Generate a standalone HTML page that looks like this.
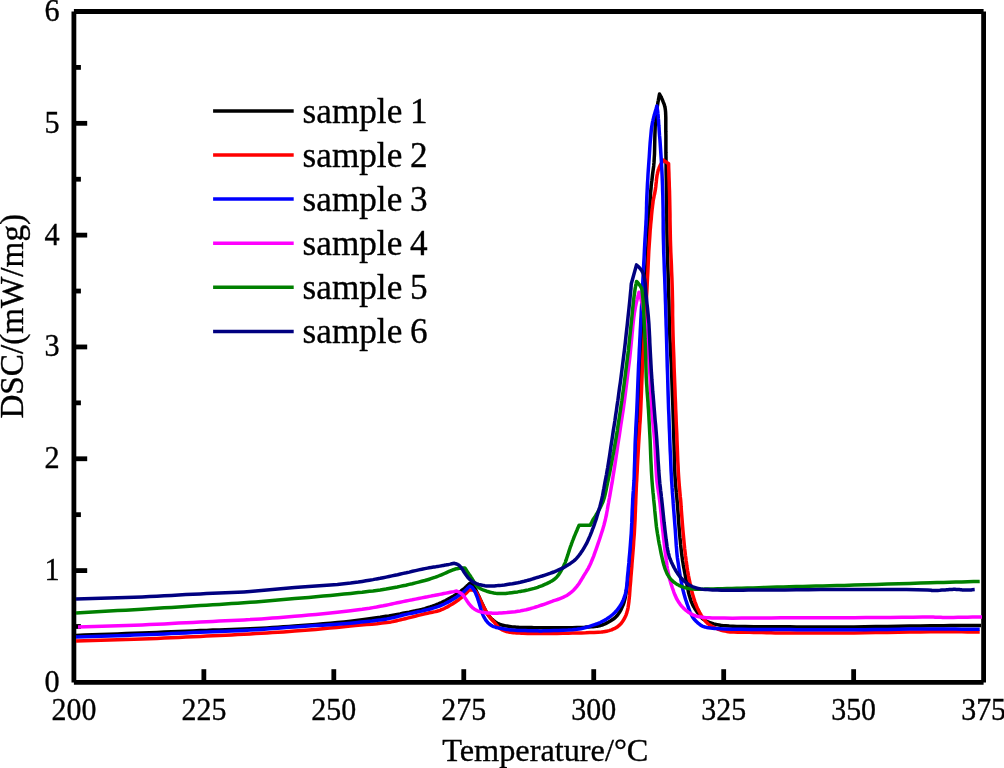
<!DOCTYPE html>
<html><head><meta charset="utf-8"><style>
html,body{margin:0;padding:0;background:#fff;width:1004px;height:768px;overflow:hidden}
svg{display:block;will-change:transform}
text{font-family:"Liberation Serif",serif;fill:#000;stroke:#000;stroke-width:0.35px}
.tl{font-size:31.5px}
.xt{font-size:32.3px}
.yt{font-size:33.2px}
.lg{font-size:35.2px;word-spacing:-1px}
</style></head><body>
<svg width="1004" height="768" viewBox="0 0 1004 768">
<line x1="73.9" y1="11.5" x2="983.6" y2="11.5" stroke="#000" stroke-width="4.8" stroke-linecap="butt"/>
<line x1="73.9" y1="682.4" x2="983.6" y2="682.4" stroke="#000" stroke-width="4.8" stroke-linecap="butt"/>
<line x1="73.9" y1="11.5" x2="73.9" y2="682.4" stroke="#000" stroke-width="4.8" stroke-linecap="butt"/>
<line x1="983.6" y1="11.5" x2="983.6" y2="682.4" stroke="#000" stroke-width="4.8" stroke-linecap="butt"/>
<line x1="73.9" y1="626.49" x2="80.9" y2="626.49" stroke="#000" stroke-width="4.8"/>
<line x1="73.9" y1="570.58" x2="87.2" y2="570.58" stroke="#000" stroke-width="4.8"/>
<line x1="73.9" y1="514.67" x2="80.9" y2="514.67" stroke="#000" stroke-width="4.8"/>
<line x1="73.9" y1="458.77" x2="87.2" y2="458.77" stroke="#000" stroke-width="4.8"/>
<line x1="73.9" y1="402.86" x2="80.9" y2="402.86" stroke="#000" stroke-width="4.8"/>
<line x1="73.9" y1="346.95" x2="87.2" y2="346.95" stroke="#000" stroke-width="4.8"/>
<line x1="73.9" y1="291.04" x2="80.9" y2="291.04" stroke="#000" stroke-width="4.8"/>
<line x1="73.9" y1="235.13" x2="87.2" y2="235.13" stroke="#000" stroke-width="4.8"/>
<line x1="73.9" y1="179.23" x2="80.9" y2="179.23" stroke="#000" stroke-width="4.8"/>
<line x1="73.9" y1="123.32" x2="87.2" y2="123.32" stroke="#000" stroke-width="4.8"/>
<line x1="73.9" y1="67.41" x2="80.9" y2="67.41" stroke="#000" stroke-width="4.8"/>
<line x1="203.86" y1="682.4" x2="203.86" y2="669.2" stroke="#000" stroke-width="4.8"/>
<line x1="333.81" y1="682.4" x2="333.81" y2="669.2" stroke="#000" stroke-width="4.8"/>
<line x1="463.77" y1="682.4" x2="463.77" y2="669.2" stroke="#000" stroke-width="4.8"/>
<line x1="593.73" y1="682.4" x2="593.73" y2="669.2" stroke="#000" stroke-width="4.8"/>
<line x1="723.69" y1="682.4" x2="723.69" y2="669.2" stroke="#000" stroke-width="4.8"/>
<line x1="853.64" y1="682.4" x2="853.64" y2="669.2" stroke="#000" stroke-width="4.8"/>
<polyline points="76.0,635.4 84.3,635.1 92.6,634.8 100.9,634.5 109.3,634.2 117.6,633.9 125.8,633.6 134.0,633.3 142.1,633.0 149.5,632.7 156.9,632.4 164.2,632.1 171.5,631.8 178.7,631.5 185.9,631.2 193.0,630.9 200.2,630.6 206.5,630.4 212.8,630.1 219.2,629.9 225.4,629.7 231.6,629.5 237.8,629.3 243.9,629.1 250.1,628.8 255.7,628.5 261.3,628.2 266.9,627.9 272.4,627.6 277.9,627.2 283.5,626.8 289.1,626.4 294.7,626.0 301.6,625.5 308.7,625.0 315.9,624.4 323.2,623.8 330.4,623.2 337.4,622.6 344.0,621.9 350.7,621.2 354.4,620.8 358.3,620.3 362.2,619.8 365.9,619.3 369.5,618.8 373.0,618.3 376.6,617.8 380.2,617.3 383.2,616.8 386.0,616.3 388.9,615.9 391.7,615.4 394.5,614.9 397.3,614.4 400.1,613.9 402.9,613.3 405.9,612.7 409.1,612.1 412.3,611.4 415.5,610.8 418.6,610.1 421.7,609.4 424.8,608.6 427.5,607.8 429.3,607.3 430.9,606.7 432.4,606.2 434.0,605.6 435.5,605.0 437.0,604.4 438.5,603.8 440.1,603.1 441.5,602.5 442.9,601.8 444.2,601.2 445.6,600.5 446.9,599.8 448.2,599.1 449.6,598.4 450.9,597.6 452.3,596.8 453.8,595.9 455.2,595.0 456.7,594.1 458.1,593.1 459.5,592.1 460.9,591.2 462.1,590.2 463.2,589.3 464.2,588.5 465.1,587.7 466.0,586.9 466.8,586.2 467.4,585.5 468.0,585.0 469.9,583.2 471.6,584.3 471.7,584.4 471.8,584.5 472.0,584.6 472.1,584.8 472.3,584.9 472.5,585.1 472.7,585.4 473.1,585.8 473.6,586.5 474.2,587.4 474.9,588.5 475.6,589.6 476.2,590.8 476.8,592.0 477.4,593.2 478.1,594.9 479.1,596.8 480.0,598.9 481.0,601.0 482.0,603.2 483.0,605.3 483.9,607.2 484.7,608.8 485.1,609.8 485.6,610.6 486.0,611.4 486.5,612.2 486.9,613.0 487.4,613.7 487.8,614.4 488.3,615.1 488.7,615.7 489.2,616.2 489.6,616.7 490.0,617.1 490.4,617.6 490.8,618.1 491.3,618.5 491.8,619.0 492.5,619.6 493.2,620.3 494.0,620.9 494.9,621.6 495.7,622.2 496.6,622.8 497.4,623.3 498.3,623.7 499.2,624.1 500.0,624.5 500.9,624.8 501.8,625.0 502.7,625.3 503.7,625.5 504.7,625.7 505.7,625.9 506.9,626.1 508.2,626.3 509.6,626.5 510.9,626.7 512.2,626.9 513.6,627.0 514.9,627.1 516.3,627.2 517.9,627.3 519.6,627.4 521.3,627.5 523.0,627.5 524.7,627.5 526.4,627.6 528.1,627.6 529.9,627.6 531.8,627.6 533.7,627.7 535.5,627.7 537.4,627.7 539.3,627.7 541.2,627.8 543.2,627.8 545.2,627.8 549.2,627.8 553.8,627.8 558.4,627.8 563.1,627.8 567.8,627.7 572.4,627.7 576.9,627.6 580.7,627.5 582.7,627.4 584.7,627.3 586.7,627.1 588.8,627.0 591.0,626.8 593.0,626.7 594.8,626.5 596.1,626.3 596.7,626.3 597.3,626.2 597.7,626.1 598.2,626.0 598.6,626.0 599.0,625.9 599.5,625.8 599.9,625.7 600.4,625.5 600.9,625.4 601.4,625.2 601.9,625.0 602.5,624.9 603.0,624.6 603.6,624.4 604.3,624.1 605.5,623.6 606.9,622.9 608.6,622.0 610.3,621.0 611.9,620.0 613.4,619.0 614.7,618.0 615.7,617.1 616.5,616.3 617.2,615.5 617.8,614.7 618.4,613.9 619.0,613.0 619.6,612.2 620.1,611.2 620.7,610.3 621.2,609.2 621.7,608.1 622.2,607.0 622.7,605.9 623.2,604.8 623.6,603.7 624.0,602.5 624.3,601.3 624.7,599.8 625.1,598.1 625.4,596.4 625.8,594.7 626.0,593.0 626.3,591.3 626.6,589.6 626.8,588.0 627.0,586.3 627.3,584.8 627.5,583.2 627.7,581.6 627.9,580.0 628.1,578.4 628.4,576.8 628.6,575.1 628.9,573.3 629.1,571.5 629.4,569.8 629.7,568.0 629.9,566.2 630.2,564.4 630.4,562.6 630.6,560.7 630.9,557.2 631.2,553.4 631.4,549.6 631.6,545.7 631.7,541.7 631.9,537.7 632.1,533.8 632.3,530.0 632.5,526.2 632.8,522.4 633.0,518.5 633.3,514.6 633.5,510.8 633.8,507.0 634.0,503.2 634.2,499.6 634.4,497.0 634.5,494.7 634.6,492.4 634.8,490.2 634.9,487.9 635.0,485.6 635.1,483.2 635.3,480.7 635.5,476.0 635.7,471.0 635.9,465.8 636.1,460.5 636.3,455.2 636.5,449.9 636.8,444.7 637.0,439.7 637.2,435.9 637.5,432.2 637.7,428.6 638.0,425.0 638.2,421.4 638.4,417.8 638.7,414.1 638.9,410.3 639.1,405.4 639.3,400.5 639.5,395.5 639.7,390.4 639.9,385.3 640.1,380.1 640.3,375.0 640.5,370.0 640.7,365.0 641.0,360.0 641.2,355.0 641.5,350.0 641.7,345.0 642.0,340.0 642.3,335.0 642.6,330.0 642.9,325.0 643.3,320.1 643.6,315.2 644.0,310.3 644.3,305.4 644.7,300.3 645.1,295.3 645.4,290.3 645.8,284.0 646.2,277.5 646.5,270.9 646.9,264.2 647.3,257.6 647.6,251.2 647.9,245.2 648.2,239.2 648.4,236.3 648.5,233.2 648.7,230.3 648.8,227.5 648.9,224.7 649.0,221.9 649.1,219.1 649.3,216.2 649.5,212.9 649.6,209.4 649.8,206.0 650.0,202.6 650.2,199.2 650.4,195.8 650.6,192.5 650.9,189.5 651.1,187.5 651.2,185.7 651.4,183.9 651.6,182.1 651.9,180.3 652.1,178.5 652.3,176.7 652.5,174.8 652.7,173.2 652.9,171.7 653.1,170.2 653.3,168.8 653.5,167.4 653.7,165.9 653.8,164.4 654.0,162.7 654.2,158.8 654.5,154.0 654.6,149.2 654.7,144.3 654.8,139.5 654.9,134.7 655.1,129.8 655.2,126.5 655.2,125.6 655.3,124.9 655.3,124.2 655.3,123.6 655.4,123.0 655.4,122.4 655.5,121.7 655.6,120.8 655.7,119.1 655.9,117.1 656.2,114.9 656.4,112.7 656.7,110.6 657.0,108.5 657.3,106.4 657.6,104.6 657.8,103.2 658.0,101.9 658.3,100.6 658.5,99.4 658.7,98.3 658.9,97.4 659.0,96.6 659.5,94.0 660.6,96.0 660.7,96.2 660.8,96.5 661.0,96.7 661.1,97.0 661.3,97.4 661.5,97.8 661.7,98.3 662.1,99.0 662.4,99.8 662.8,100.8 663.2,101.9 663.6,102.9 664.0,103.9 664.3,104.7 664.5,105.5 664.6,105.9 664.7,106.3 664.8,106.7 664.9,107.1 665.0,107.4 665.1,107.8 665.1,108.2 665.2,108.7 665.4,110.1 665.6,112.2 665.7,114.9 665.8,117.5 665.8,120.1 665.8,122.6 665.8,125.1 665.8,127.5 665.8,131.4 665.9,135.5 665.9,139.7 665.9,144.0 665.9,148.4 665.9,152.9 666.0,157.3 666.0,161.6 666.1,166.3 666.1,171.1 666.2,175.8 666.3,180.6 666.4,185.5 666.4,190.3 666.5,195.2 666.6,200.0 666.7,204.9 666.7,209.8 666.8,214.7 666.8,219.7 666.9,224.6 666.9,229.6 667.0,234.7 667.1,239.7 667.2,246.0 667.4,252.2 667.6,258.6 667.8,265.0 668.0,271.4 668.2,277.8 668.4,284.0 668.6,290.3 668.7,295.3 668.9,300.3 669.0,305.4 669.1,310.3 669.2,315.2 669.3,320.1 669.4,325.0 669.6,330.0 669.8,335.0 670.0,339.8 670.3,344.5 670.5,349.3 670.7,354.1 671.0,359.1 671.3,364.4 671.5,369.4 671.8,377.9 672.1,386.5 672.4,395.7 672.8,405.0 673.1,414.3 673.4,423.5 673.6,432.1 673.9,440.6 674.1,445.7 674.2,451.2 674.4,456.5 674.5,461.6 674.6,466.6 674.8,471.3 675.0,476.0 675.3,480.7 675.5,483.2 675.7,485.6 675.9,487.9 676.1,490.2 676.3,492.4 676.6,494.7 676.8,497.0 677.0,499.6 677.3,503.2 677.6,507.0 677.9,510.8 678.2,514.7 678.4,518.6 678.7,522.5 679.0,526.3 679.3,530.1 679.6,533.6 679.9,537.2 680.3,540.9 680.6,544.5 681.0,548.1 681.4,551.6 681.8,555.1 682.3,558.4 682.6,560.7 683.0,562.9 683.3,565.0 683.7,567.1 684.1,569.2 684.5,571.3 684.9,573.4 685.3,575.6 685.8,578.2 686.3,581.0 686.8,583.8 687.4,586.7 687.9,589.5 688.5,592.3 689.2,595.0 689.9,597.3 690.3,598.7 690.7,600.0 691.2,601.3 691.7,602.5 692.2,603.7 692.7,604.9 693.3,606.0 694.0,607.2 694.6,608.2 695.3,609.3 696.0,610.4 696.8,611.5 697.6,612.6 698.3,613.5 698.8,614.3 699.2,615.0 699.5,615.3 699.7,615.6 699.9,615.8 700.1,616.1 700.2,616.3 700.4,616.6 700.6,616.8 700.9,617.1 701.4,617.6 702.1,618.3 703.1,619.0 704.2,619.8 705.4,620.6 706.7,621.3 707.9,621.8 709.2,622.4 710.7,622.9 712.2,623.4 713.8,623.9 715.4,624.3 717.1,624.6 718.9,624.9 720.6,625.2 722.4,625.4 729.2,626.0 736.8,626.4 745.1,626.6 754.0,626.7 763.2,626.7 772.4,626.7 781.3,626.7 789.8,626.8 796.5,626.9 803.2,626.9 809.8,627.0 816.3,627.0 822.8,627.0 829.6,627.0 836.5,627.0 843.7,627.0 853.9,626.9 864.6,626.8 875.8,626.6 887.2,626.5 898.5,626.3 909.6,626.1 920.2,625.9 930.4,625.8 937.1,625.7 943.8,625.7 950.2,625.6 956.4,625.6 962.5,625.5 968.5,625.5 974.7,625.4 981.0,625.4" fill="none" stroke="#000000" stroke-width="3.5" stroke-linejoin="round" stroke-linecap="butt"/>
<polyline points="76.0,641.1 84.3,640.8 92.6,640.6 100.9,640.3 109.3,640.1 117.6,639.8 125.8,639.6 134.0,639.3 142.1,639.0 149.5,638.7 156.9,638.4 164.2,638.1 171.5,637.7 178.7,637.4 185.9,637.1 193.0,636.7 200.2,636.4 206.5,636.1 212.8,635.8 219.2,635.5 225.4,635.2 231.6,634.9 237.8,634.6 243.9,634.2 250.1,633.9 255.7,633.6 261.3,633.3 266.9,633.0 272.4,632.6 277.9,632.3 283.5,631.9 289.1,631.5 294.7,631.1 301.6,630.6 308.5,630.0 315.6,629.4 322.7,628.7 329.8,628.0 336.8,627.4 343.6,626.7 350.3,626.1 355.4,625.6 361.0,625.1 366.5,624.6 371.9,624.2 377.0,623.7 381.9,623.1 386.8,622.5 391.1,621.9 392.8,621.6 394.2,621.3 395.5,621.0 396.8,620.7 398.0,620.4 399.3,620.1 400.7,619.8 402.3,619.4 405.1,618.7 408.4,617.9 411.7,617.1 415.0,616.3 418.3,615.4 421.6,614.6 424.8,613.8 427.6,613.2 429.3,612.8 430.9,612.5 432.4,612.2 434.0,611.9 435.5,611.6 437.0,611.2 438.5,610.8 440.0,610.3 441.4,609.7 442.9,609.1 444.3,608.5 445.6,607.8 447.0,607.1 448.3,606.4 449.6,605.6 451.0,604.8 452.4,604.0 453.9,603.0 455.4,602.0 456.8,601.0 458.3,600.0 459.7,598.9 461.1,597.9 462.3,596.8 463.2,596.0 464.1,595.1 465.0,594.3 465.7,593.6 466.4,592.9 467.0,592.3 467.5,591.8 469.3,589.9 471.7,589.9 472.0,590.0 472.4,590.0 472.9,590.1 473.3,590.2 473.7,590.4 474.2,590.6 474.6,590.8 475.3,591.3 476.1,592.1 477.0,593.3 477.9,594.8 478.8,596.6 479.5,598.1 479.9,599.2 480.3,599.9 480.4,600.2 480.6,600.5 480.7,600.7 480.8,600.9 480.9,601.2 481.0,601.4 481.1,601.6 481.3,602.0 481.6,602.7 482.1,603.7 482.8,605.1 483.6,606.7 484.4,608.4 485.2,609.9 485.9,611.2 486.6,612.4 487.1,613.2 487.5,614.0 488.0,614.8 488.6,615.5 489.1,616.3 489.6,617.0 490.2,617.7 490.7,618.3 491.2,618.9 491.7,619.4 492.2,619.9 492.6,620.5 493.1,621.0 493.6,621.5 494.1,622.1 494.6,622.6 495.1,623.2 495.6,623.8 496.1,624.4 496.6,625.0 497.1,625.6 497.6,626.2 498.0,626.7 498.4,627.1 498.8,627.5 499.1,627.8 499.5,628.1 499.8,628.4 500.1,628.6 500.4,628.8 500.8,629.1 501.1,629.3 501.5,629.5 501.9,629.7 502.3,629.9 502.7,630.1 503.1,630.3 503.5,630.5 504.0,630.7 504.5,630.9 505.2,631.1 505.8,631.3 506.5,631.5 507.3,631.7 508.0,631.8 508.8,632.0 509.6,632.2 510.5,632.3 511.8,632.5 513.3,632.7 514.8,632.8 516.4,632.9 518.0,633.0 519.6,633.1 521.2,633.2 522.9,633.3 527.6,633.4 533.1,633.4 538.7,633.5 544.7,633.5 550.9,633.4 557.0,633.4 562.8,633.3 568.3,633.2 572.4,633.1 576.9,633.0 581.3,632.9 585.7,632.8 589.9,632.6 594.0,632.5 598.2,632.2 601.3,632.0 602.4,631.9 603.2,631.8 604.0,631.7 604.8,631.6 605.5,631.5 606.2,631.3 607.1,631.2 608.0,630.9 609.1,630.6 610.4,630.2 611.7,629.8 613.0,629.2 614.3,628.7 615.5,628.0 616.6,627.4 617.6,626.7 618.5,625.9 619.4,625.2 620.3,624.3 621.1,623.5 621.8,622.5 622.5,621.6 623.2,620.6 623.8,619.5 624.4,618.5 625.0,617.4 625.5,616.3 626.0,615.1 626.4,613.9 626.8,612.8 627.1,611.5 627.5,610.3 627.8,609.0 628.1,607.6 628.3,606.1 628.5,604.7 628.7,603.2 628.9,601.8 629.0,600.3 629.2,598.8 629.3,597.3 629.5,595.9 629.6,594.5 629.7,593.0 629.8,591.6 629.9,590.2 630.0,588.7 630.1,587.0 630.4,584.1 630.7,580.7 630.9,577.3 631.2,573.9 631.5,570.4 631.8,566.9 632.0,563.5 632.3,560.1 632.6,556.4 632.9,552.7 633.2,548.9 633.5,545.1 633.7,541.3 634.0,537.5 634.3,533.8 634.5,530.0 634.7,526.2 634.9,522.4 635.1,518.5 635.2,514.6 635.4,510.8 635.5,507.0 635.7,503.2 635.8,499.6 635.9,497.0 636.0,494.7 636.1,492.4 636.2,490.2 636.3,487.9 636.4,485.6 636.5,483.2 636.7,480.7 636.9,476.0 637.2,471.0 637.4,465.8 637.7,460.5 638.0,455.2 638.3,449.9 638.6,444.7 638.9,439.7 639.1,435.9 639.4,432.2 639.6,428.6 639.8,425.0 640.1,421.4 640.3,417.8 640.5,414.1 640.7,410.3 640.9,405.4 641.1,400.5 641.3,395.5 641.5,390.4 641.7,385.3 641.9,380.1 642.1,375.0 642.3,370.0 642.6,365.0 642.8,360.0 643.1,355.0 643.4,350.0 643.7,345.0 644.0,340.0 644.3,335.0 644.6,330.0 644.9,325.0 645.2,320.1 645.5,315.2 645.7,310.3 646.0,305.4 646.3,300.3 646.6,295.3 646.9,290.3 647.2,284.0 647.5,277.5 647.9,270.9 648.2,264.2 648.5,257.6 648.8,251.2 649.2,245.2 649.6,239.3 649.8,236.3 650.0,233.1 650.2,230.0 650.5,227.0 650.7,224.2 651.0,221.3 651.3,218.5 651.5,215.7 651.7,213.6 651.9,211.5 652.1,209.5 652.4,207.4 652.6,205.4 652.9,203.3 653.1,201.3 653.4,199.5 653.7,198.2 653.9,197.1 654.1,196.0 654.3,195.0 654.6,194.0 654.8,192.9 655.0,191.8 655.2,190.6 655.5,188.7 655.8,186.5 656.0,184.2 656.3,181.9 656.5,179.5 656.8,177.2 657.1,175.1 657.5,173.4 657.7,172.4 657.9,171.6 658.1,170.8 658.3,170.1 658.5,169.3 658.8,168.6 659.1,167.8 659.4,167.0 659.8,166.2 660.2,165.4 660.6,164.6 661.0,163.9 661.4,163.3 661.8,162.7 662.0,162.2 663.4,160.1 668.6,163.8 668.7,168.3 668.9,172.8 669.0,177.3 669.2,181.8 669.3,186.3 669.5,190.8 669.6,195.4 669.7,199.9 669.8,204.9 669.9,209.7 670.0,214.6 670.0,219.6 670.1,224.6 670.2,229.6 670.3,234.7 670.4,239.7 670.6,246.0 670.8,252.2 671.1,258.6 671.4,265.0 671.6,271.4 671.9,277.8 672.1,284.0 672.3,290.3 672.4,295.2 672.5,300.2 672.6,305.0 672.6,309.8 672.6,314.6 672.7,319.5 672.8,324.5 672.9,329.5 673.1,336.9 673.3,344.2 673.6,351.8 673.9,359.6 674.1,367.4 674.4,375.1 674.7,382.7 675.0,390.2 675.2,396.5 675.5,403.0 675.7,409.4 676.0,415.7 676.2,421.9 676.5,428.0 676.8,434.1 677.0,440.2 677.2,445.3 677.4,450.6 677.6,456.0 677.8,461.2 678.1,466.3 678.3,471.2 678.6,476.0 678.9,480.7 679.1,483.2 679.3,485.6 679.5,487.9 679.7,490.2 679.9,492.4 680.1,494.7 680.3,497.0 680.6,499.5 680.9,503.2 681.1,507.0 681.4,510.9 681.7,514.8 682.0,518.7 682.3,522.6 682.6,526.5 682.9,530.2 683.2,533.3 683.5,536.5 683.8,539.7 684.1,542.8 684.4,545.9 684.7,549.0 685.1,552.1 685.4,555.2 685.8,557.8 686.1,560.4 686.5,563.0 686.8,565.6 687.2,568.2 687.6,570.8 688.1,573.3 688.5,575.8 689.0,578.3 689.5,580.7 690.0,583.1 690.5,585.6 691.0,588.0 691.6,590.4 692.2,592.7 692.8,594.9 693.3,596.6 693.8,598.2 694.3,599.8 694.8,601.5 695.4,603.1 696.0,604.7 696.6,606.2 697.2,607.6 697.6,608.5 698.1,609.4 698.5,610.2 698.9,611.0 699.3,611.8 699.7,612.6 700.2,613.4 700.6,614.2 701.0,614.9 701.4,615.5 701.8,616.2 702.2,616.8 702.6,617.4 703.1,618.0 703.5,618.6 704.0,619.3 704.5,620.0 705.1,620.6 705.6,621.3 706.2,622.0 706.8,622.6 707.4,623.2 708.1,623.8 708.9,624.4 710.3,625.3 711.9,626.3 713.7,627.3 715.6,628.2 717.5,629.0 719.4,629.7 721.3,630.3 723.3,630.8 726.6,631.4 730.2,631.9 733.9,632.1 737.8,632.2 741.7,632.3 745.8,632.3 749.7,632.3 753.6,632.4 757.9,632.5 762.2,632.6 766.5,632.7 770.9,632.8 775.3,632.9 779.9,632.9 784.6,633.0 789.0,633.0 795.6,633.0 802.0,633.1 808.5,633.1 815.2,633.1 822.1,633.1 829.2,633.1 836.5,633.0 843.7,633.0 854.0,632.9 864.7,632.8 875.8,632.6 887.2,632.4 898.6,632.2 909.7,632.0 920.3,631.9 930.4,631.8 937.0,631.8 943.5,631.8 949.7,631.8 955.7,631.8 961.7,631.8 967.6,631.9 973.5,631.9 979.7,631.9" fill="none" stroke="#ff0000" stroke-width="3.5" stroke-linejoin="round" stroke-linecap="butt"/>
<polyline points="76.0,637.0 84.3,636.7 92.6,636.5 100.9,636.2 109.3,635.9 117.6,635.7 125.8,635.4 134.0,635.1 142.1,634.8 149.5,634.5 156.9,634.2 164.2,633.9 171.5,633.6 178.7,633.2 185.9,632.9 193.0,632.6 200.2,632.3 206.5,632.0 212.8,631.8 219.2,631.5 225.4,631.3 231.6,631.0 237.8,630.7 243.9,630.4 250.1,630.1 255.7,629.7 261.3,629.4 266.9,629.0 272.4,628.6 277.9,628.2 283.5,627.7 289.1,627.3 294.7,626.9 301.6,626.5 308.5,626.0 315.6,625.6 322.7,625.2 329.8,624.7 336.8,624.3 343.6,623.8 350.3,623.2 355.4,622.7 361.0,622.1 366.5,621.6 371.9,621.0 377.0,620.3 381.9,619.7 386.8,618.9 391.1,618.1 392.7,617.8 394.2,617.4 395.5,617.1 396.8,616.8 398.0,616.4 399.3,616.1 400.7,615.7 402.3,615.3 405.1,614.6 408.4,613.9 411.7,613.2 415.0,612.5 418.3,611.8 421.6,611.1 424.8,610.3 427.6,609.6 429.3,609.2 430.9,608.8 432.4,608.3 434.0,607.9 435.5,607.4 437.0,606.9 438.5,606.4 440.0,605.8 441.5,605.2 442.9,604.6 444.3,604.0 445.6,603.3 447.0,602.6 448.3,601.9 449.7,601.2 451.0,600.4 452.4,599.6 453.9,598.7 455.3,597.8 456.8,596.9 458.2,595.9 459.6,594.9 461.0,594.0 462.2,593.0 463.3,592.1 464.3,591.3 465.2,590.5 466.0,589.7 466.8,589.0 467.5,588.3 468.0,587.8 469.9,586.0 471.6,587.1 471.7,587.1 471.8,587.2 471.9,587.3 472.0,587.5 472.2,587.6 472.4,587.8 472.6,588.0 473.0,588.6 473.6,589.5 474.4,590.8 475.3,592.4 476.0,594.2 476.7,595.8 477.3,597.3 477.7,598.6 478.0,599.6 478.3,600.5 478.6,601.3 478.8,602.2 479.1,603.0 479.4,603.9 479.6,604.8 479.9,605.7 480.3,606.9 480.6,608.2 481.0,609.5 481.4,610.8 481.9,612.1 482.3,613.4 482.8,614.6 483.3,615.7 483.8,616.7 484.3,617.7 484.9,618.7 485.5,619.7 486.2,620.6 486.9,621.5 487.5,622.3 488.2,623.0 488.8,623.5 489.3,624.0 489.9,624.4 490.4,624.8 491.0,625.2 491.6,625.6 492.2,625.9 492.9,626.3 493.7,626.6 494.6,626.9 495.5,627.2 496.5,627.5 497.4,627.7 498.5,627.9 499.5,628.2 500.5,628.3 501.7,628.6 503.0,628.8 504.2,629.0 505.5,629.2 506.7,629.4 508.0,629.6 509.3,629.7 510.6,629.9 512.8,630.1 515.2,630.2 517.8,630.4 520.3,630.5 522.9,630.5 525.4,630.6 527.9,630.7 530.3,630.7 532.2,630.7 534.1,630.8 535.9,630.8 537.6,630.8 539.4,630.9 541.3,630.9 543.2,630.8 545.2,630.8 549.2,630.7 553.8,630.6 558.4,630.5 563.1,630.3 567.8,630.1 572.4,629.8 576.8,629.3 580.7,628.7 582.7,628.3 584.7,627.8 586.7,627.2 588.8,626.6 590.9,625.9 593.0,625.2 594.7,624.6 595.9,624.2 596.5,624.0 596.9,623.9 597.3,623.7 597.6,623.6 598.0,623.5 598.3,623.3 598.8,623.1 599.3,622.9 600.3,622.5 601.6,621.8 603.1,621.0 604.8,620.1 606.4,619.2 607.8,618.2 609.2,617.3 610.4,616.4 611.5,615.5 612.7,614.5 613.8,613.5 614.9,612.4 616.0,611.2 617.0,610.1 618.0,608.9 618.8,607.8 619.5,606.8 620.2,605.9 620.8,604.9 621.4,603.9 621.9,602.8 622.4,601.8 622.9,600.7 623.4,599.7 623.8,598.7 624.1,597.8 624.4,596.9 624.7,596.0 625.0,595.1 625.3,594.2 625.5,593.2 625.8,592.1 626.1,590.4 626.4,588.4 626.7,586.2 626.9,584.1 627.1,581.9 627.3,579.8 627.4,577.7 627.6,575.7 627.8,573.8 628.0,571.9 628.2,570.1 628.3,568.3 628.5,566.5 628.7,564.6 628.9,562.7 629.0,560.6 629.3,557.1 629.7,553.3 630.0,549.5 630.3,545.6 630.6,541.7 630.9,537.7 631.2,533.8 631.4,530.0 631.6,526.2 631.8,522.4 631.9,518.5 632.1,514.6 632.2,510.8 632.4,507.0 632.6,503.2 632.7,499.6 632.9,497.0 633.0,494.7 633.2,492.4 633.4,490.2 633.5,487.9 633.7,485.6 633.8,483.2 634.0,480.7 634.2,476.0 634.3,471.0 634.5,465.8 634.7,460.5 634.8,455.2 635.0,449.9 635.1,444.7 635.3,439.7 635.5,435.9 635.7,432.2 635.8,428.6 636.0,425.0 636.2,421.4 636.4,417.8 636.6,414.1 636.8,410.3 637.0,405.4 637.2,400.5 637.4,395.5 637.6,390.4 637.8,385.3 638.0,380.1 638.2,375.0 638.4,370.0 638.6,365.0 638.9,360.0 639.1,355.0 639.3,350.0 639.6,345.0 639.8,340.0 640.1,335.0 640.3,330.0 640.6,325.0 640.8,320.1 641.1,315.2 641.3,310.3 641.6,305.4 641.9,300.3 642.1,295.3 642.4,290.3 642.7,284.0 643.0,277.5 643.4,270.9 643.7,264.2 644.1,257.6 644.4,251.2 644.7,245.2 645.0,239.3 645.2,236.3 645.4,233.2 645.6,230.2 645.7,227.3 645.9,224.5 646.0,221.7 646.2,218.8 646.3,215.9 646.4,213.2 646.5,210.7 646.5,208.2 646.6,205.7 646.6,203.2 646.7,200.7 646.8,198.1 646.9,195.5 647.1,191.5 647.3,187.3 647.5,183.1 647.8,178.9 648.0,174.5 648.3,170.2 648.6,165.9 648.9,161.7 649.2,157.5 649.5,152.9 649.8,148.2 650.1,143.5 650.5,139.0 650.9,134.7 651.3,130.2 651.7,127.0 651.9,125.9 652.1,124.9 652.2,124.0 652.4,123.1 652.5,122.3 652.7,121.4 652.9,120.6 653.1,119.7 653.3,119.0 653.5,118.3 653.6,117.7 653.8,117.0 653.9,116.4 654.1,115.7 654.3,115.1 654.5,114.3 654.8,113.4 655.0,112.5 655.3,111.5 655.6,110.6 655.8,109.8 656.0,109.1 656.2,108.5 656.9,106.0 657.3,108.5 657.3,108.9 657.4,109.5 657.5,110.1 657.6,110.8 657.7,111.5 657.8,112.4 657.9,113.5 658.1,115.0 658.2,116.6 658.3,118.4 658.5,120.1 658.6,121.8 658.7,123.6 658.8,125.3 659.0,127.2 659.2,130.9 659.5,135.2 659.9,139.4 660.2,143.7 660.5,148.2 660.8,152.8 661.1,157.3 661.4,161.6 661.6,166.3 661.9,171.1 662.1,175.8 662.3,180.6 662.5,185.5 662.6,190.3 662.8,195.2 662.9,200.0 663.0,204.9 663.1,209.8 663.1,214.7 663.2,219.7 663.2,224.6 663.2,229.6 663.3,234.7 663.4,239.7 663.6,246.0 663.7,252.2 664.0,258.6 664.2,265.0 664.4,271.4 664.7,277.8 664.9,284.0 665.1,290.3 665.3,295.2 665.4,300.2 665.6,305.0 665.7,309.8 665.8,314.6 666.0,319.5 666.1,324.5 666.3,329.5 666.5,336.9 666.7,344.2 666.9,351.8 667.1,359.6 667.3,367.4 667.6,375.1 667.8,382.7 668.0,390.2 668.2,396.5 668.4,403.0 668.6,409.4 668.9,415.7 669.1,421.9 669.3,428.0 669.6,434.1 669.8,440.2 670.0,445.3 670.2,450.6 670.5,456.0 670.7,461.2 670.9,466.3 671.1,471.2 671.4,476.0 671.6,480.7 671.8,483.2 672.0,485.6 672.1,487.9 672.3,490.2 672.4,492.4 672.6,494.7 672.8,497.0 673.0,499.5 673.2,503.2 673.5,507.0 673.8,510.9 674.1,514.8 674.4,518.7 674.7,522.6 675.0,526.5 675.3,530.2 675.5,533.3 675.7,536.5 675.9,539.7 676.1,542.8 676.3,545.9 676.6,549.0 676.8,552.1 677.1,555.1 677.4,557.8 677.8,560.5 678.2,563.1 678.6,565.8 679.0,568.4 679.4,571.0 679.8,573.6 680.2,576.1 680.6,578.1 680.9,580.0 681.3,582.0 681.7,583.9 682.1,585.9 682.5,587.8 682.9,589.7 683.4,591.6 683.8,593.3 684.3,595.0 684.8,596.7 685.3,598.4 685.8,600.1 686.4,601.7 686.9,603.4 687.5,605.0 688.1,606.6 688.7,608.3 689.3,610.0 689.9,611.6 690.6,613.3 691.4,614.8 692.2,616.3 693.0,617.6 693.8,618.7 694.7,619.8 695.7,620.9 696.9,622.0 698.1,623.1 699.1,623.9 700.0,624.6 700.6,625.1 700.9,625.3 701.2,625.5 701.4,625.6 701.6,625.7 701.9,625.9 702.1,626.0 702.4,626.1 702.8,626.3 703.7,626.6 704.9,627.0 706.6,627.4 708.6,627.7 710.7,628.0 712.7,628.2 714.6,628.4 716.3,628.5 723.7,628.9 731.9,629.2 741.0,629.3 750.8,629.4 760.9,629.5 771.0,629.5 780.7,629.5 789.8,629.6 796.7,629.7 803.4,629.7 810.0,629.8 816.4,629.8 822.9,629.8 829.6,629.8 836.6,629.8 843.7,629.8 854.0,629.7 864.7,629.7 875.8,629.5 887.2,629.4 898.6,629.3 909.7,629.1 920.3,629.0 930.4,629.0 937.0,629.0 943.5,629.0 949.7,629.1 955.7,629.1 961.7,629.2 967.6,629.2 973.5,629.3 979.7,629.3" fill="none" stroke="#0000ff" stroke-width="3.5" stroke-linejoin="round" stroke-linecap="butt"/>
<polyline points="78.0,626.9 86.0,626.7 94.1,626.4 102.1,626.2 110.2,626.0 118.2,625.7 126.2,625.5 134.2,625.2 142.1,624.9 149.4,624.6 156.8,624.2 164.2,623.9 171.5,623.5 178.7,623.1 185.9,622.7 193.0,622.4 200.2,622.0 206.5,621.7 212.8,621.4 219.2,621.1 225.4,620.8 231.6,620.6 237.8,620.3 243.9,619.9 250.1,619.6 255.7,619.2 261.3,618.9 266.9,618.5 272.4,618.1 277.9,617.7 283.5,617.3 289.1,616.8 294.7,616.3 301.6,615.7 308.7,615.1 315.9,614.4 323.2,613.8 330.4,613.1 337.4,612.3 344.0,611.6 350.6,610.8 354.4,610.3 358.3,609.8 362.2,609.3 365.9,608.7 369.5,608.2 373.0,607.6 376.6,607.0 380.2,606.3 383.2,605.8 386.0,605.2 388.9,604.6 391.7,604.0 394.5,603.4 397.3,602.8 400.1,602.2 402.9,601.6 405.9,601.0 409.1,600.4 412.3,599.8 415.5,599.1 418.6,598.5 421.7,597.9 424.9,597.3 427.6,596.8 429.3,596.4 430.8,596.1 432.3,595.8 433.7,595.6 435.1,595.3 436.6,595.0 438.1,594.7 439.7,594.4 441.7,594.0 443.8,593.5 446.0,593.1 448.1,592.7 450.2,592.3 452.2,591.9 453.8,591.6 456.6,591.0 458.8,592.0 459.1,592.1 459.5,592.3 459.8,592.6 460.3,592.8 460.7,593.1 461.2,593.5 461.7,593.9 462.3,594.4 462.9,595.1 463.5,595.8 464.2,596.7 464.8,597.6 465.4,598.5 466.0,599.4 466.6,600.3 467.2,601.2 467.9,602.2 468.6,603.2 469.3,604.2 470.1,605.1 470.9,606.0 471.6,606.8 472.4,607.6 473.1,608.2 473.8,608.7 474.5,609.2 475.2,609.6 475.9,610.0 476.7,610.4 477.5,610.8 478.4,611.1 479.6,611.5 480.9,611.9 482.4,612.2 484.0,612.5 485.6,612.7 487.1,612.9 488.6,613.0 490.0,613.1 491.2,613.1 492.3,613.2 493.4,613.2 494.5,613.2 495.5,613.2 496.6,613.2 497.7,613.2 499.0,613.1 501.3,613.0 504.0,612.8 506.8,612.6 509.6,612.3 512.3,612.0 515.1,611.7 517.8,611.3 520.3,610.9 522.3,610.5 524.2,610.1 526.2,609.7 528.1,609.2 530.0,608.7 532.0,608.1 533.9,607.6 535.8,607.0 537.9,606.4 539.9,605.7 541.9,605.0 544.0,604.3 546.0,603.6 548.0,602.8 550.0,602.1 552.0,601.4 553.8,600.7 555.7,600.1 557.5,599.5 559.4,598.8 561.2,598.1 563.0,597.4 564.7,596.5 566.3,595.7 567.6,594.9 568.9,594.0 570.1,593.1 571.3,592.2 572.4,591.2 573.5,590.2 574.6,589.1 575.6,587.9 576.7,586.6 577.8,585.2 578.9,583.7 579.9,582.1 580.9,580.5 581.9,578.9 582.9,577.3 583.8,575.7 584.6,574.4 585.4,573.1 586.2,571.9 586.9,570.7 587.6,569.5 588.3,568.3 589.0,566.9 589.7,565.5 591.0,562.7 592.3,559.5 593.6,556.3 594.8,552.9 596.0,549.6 597.2,546.2 598.3,542.9 599.4,539.7 600.2,537.2 601.0,534.8 601.8,532.3 602.6,529.9 603.3,527.4 604.0,525.0 604.6,522.5 605.3,520.0 605.8,517.5 606.4,515.0 606.8,512.5 607.3,510.0 607.7,507.5 608.1,505.0 608.6,502.5 609.0,500.0 609.5,497.5 609.9,495.1 610.3,492.8 610.7,490.5 611.1,488.1 611.5,485.7 612.0,483.2 612.4,480.7 613.1,476.0 613.9,471.1 614.7,466.1 615.5,460.9 616.3,455.6 617.1,450.3 617.8,445.0 618.6,440.0 619.4,435.0 620.1,430.1 620.8,425.2 621.6,420.3 622.3,415.4 623.1,410.4 623.8,405.3 624.5,400.3 625.3,394.0 626.1,387.6 626.9,381.1 627.7,374.5 628.5,368.0 629.3,361.7 630.0,355.5 630.6,349.5 631.0,345.7 631.4,341.7 631.8,337.7 632.1,333.8 632.5,330.1 632.8,326.4 633.2,322.8 633.6,319.4 633.8,317.4 634.1,315.5 634.3,313.7 634.6,312.0 634.9,310.2 635.2,308.5 635.5,306.7 635.9,304.9 636.2,303.3 636.6,301.7 637.0,300.1 637.3,298.6 637.7,297.2 638.0,295.9 638.3,294.9 639.0,292.3 639.8,294.9 640.0,295.9 640.4,297.0 640.8,298.3 641.1,299.7 641.5,301.2 641.9,302.7 642.3,304.4 642.9,307.2 643.5,310.3 644.0,313.4 644.5,316.5 645.0,319.7 645.4,323.1 645.9,326.4 646.2,329.6 646.8,334.4 647.3,339.3 647.7,344.3 648.1,349.4 648.5,354.6 648.9,359.8 649.3,365.0 649.6,370.0 649.9,375.0 650.2,380.1 650.4,385.3 650.6,390.4 650.9,395.5 651.1,400.5 651.4,405.4 651.7,410.3 652.0,414.1 652.4,417.8 652.8,421.4 653.1,425.0 653.5,428.6 653.9,432.2 654.2,435.9 654.6,439.7 654.9,444.7 655.2,449.9 655.4,455.2 655.7,460.5 655.9,465.8 656.2,471.0 656.5,476.0 656.9,480.7 657.2,483.2 657.5,485.6 657.8,487.9 658.2,490.2 658.5,492.4 658.9,494.7 659.2,497.0 659.5,499.6 660.0,503.2 660.4,507.0 660.8,510.9 661.2,514.8 661.5,518.7 661.9,522.6 662.3,526.5 662.7,530.2 663.1,533.3 663.4,536.5 663.8,539.7 664.1,542.8 664.5,545.9 664.8,549.0 665.2,552.1 665.6,555.1 666.0,557.8 666.3,560.5 666.7,563.2 667.0,565.9 667.4,568.5 667.9,571.1 668.4,573.7 668.9,576.2 669.3,577.9 669.8,579.7 670.3,581.3 670.8,583.0 671.3,584.7 671.9,586.4 672.4,588.0 673.0,589.6 673.5,591.0 673.9,592.3 674.4,593.6 674.9,594.9 675.5,596.1 676.0,597.4 676.6,598.6 677.2,599.8 677.9,600.9 678.6,602.0 679.3,603.1 680.0,604.1 680.8,605.1 681.6,606.1 682.5,607.1 683.4,608.0 684.3,608.9 685.3,609.8 686.4,610.7 687.5,611.5 688.6,612.4 689.8,613.1 690.9,613.8 692.0,614.4 692.9,614.8 693.8,615.2 694.7,615.5 695.5,615.8 696.3,616.1 697.2,616.3 698.2,616.5 699.3,616.8 701.2,617.1 703.2,617.4 705.3,617.6 707.4,617.7 709.7,617.8 712.0,617.9 714.3,617.9 716.5,618.0 724.2,618.1 732.5,618.2 741.6,618.1 751.2,618.1 761.2,618.0 771.2,617.9 780.7,617.8 789.8,617.8 796.7,617.8 803.4,617.8 810.0,617.8 816.4,617.8 822.9,617.8 829.6,617.8 836.6,617.8 843.7,617.8 854.3,617.7 865.8,617.6 877.9,617.5 890.1,617.4 902.0,617.3 913.0,617.2 922.7,617.1 931.7,617.1 933.4,617.1 935.1,617.2 936.7,617.2 938.2,617.3 939.6,617.3 941.0,617.3 942.6,617.4 944.5,617.4 948.8,617.4 953.4,617.4 958.0,617.3 962.7,617.3 967.6,617.2 972.5,617.1 977.3,617.1 982.0,617.0" fill="none" stroke="#ff00ff" stroke-width="3.5" stroke-linejoin="round" stroke-linecap="butt"/>
<polyline points="76.0,613.0 84.3,612.5 92.6,612.1 100.9,611.6 109.3,611.1 117.6,610.6 125.8,610.2 134.0,609.7 142.1,609.2 149.5,608.8 156.9,608.3 164.2,607.8 171.5,607.4 178.7,606.9 185.9,606.5 193.0,606.0 200.2,605.6 206.5,605.2 212.8,604.8 219.2,604.4 225.4,604.0 231.6,603.6 237.8,603.2 243.9,602.7 250.1,602.3 255.7,601.9 261.3,601.4 266.9,601.0 272.4,600.5 277.9,600.1 283.5,599.6 289.1,599.1 294.7,598.6 301.6,598.0 308.7,597.4 315.9,596.8 323.2,596.1 330.4,595.4 337.4,594.8 344.0,594.1 350.7,593.4 354.4,593.0 358.3,592.6 362.2,592.2 365.9,591.7 369.5,591.3 373.0,590.9 376.6,590.4 380.2,589.9 383.2,589.4 386.0,589.0 388.9,588.5 391.7,588.0 394.5,587.5 397.3,587.0 400.1,586.4 402.9,585.8 405.9,585.2 409.1,584.4 412.3,583.7 415.5,582.9 418.6,582.1 421.7,581.3 424.8,580.5 427.6,579.7 429.3,579.2 430.9,578.7 432.4,578.2 433.9,577.7 435.5,577.2 437.0,576.6 438.5,576.0 440.0,575.4 441.5,574.8 443.0,574.2 444.5,573.5 446.0,572.8 447.5,572.1 449.1,571.4 450.5,570.8 451.7,570.3 452.6,570.0 453.3,569.7 454.0,569.5 454.8,569.2 455.5,569.0 456.2,568.8 456.9,568.7 457.7,568.5 458.5,568.4 459.2,568.3 460.0,568.2 460.7,568.2 461.3,568.1 461.9,568.1 462.4,568.1 464.9,568.1 466.3,570.1 466.5,570.5 466.8,570.9 467.1,571.3 467.5,571.8 467.8,572.4 468.3,573.0 468.7,573.7 469.2,574.5 469.8,575.3 470.4,576.2 470.9,577.0 471.5,577.9 472.1,578.8 472.6,579.7 473.2,580.5 473.7,581.4 474.3,582.3 474.8,583.1 475.4,584.0 476.0,584.8 476.6,585.6 477.3,586.2 477.9,586.9 478.5,587.4 479.2,587.9 479.8,588.3 480.5,588.7 481.2,589.1 482.0,589.4 482.8,589.8 483.7,590.1 485.1,590.6 486.7,591.2 488.5,591.7 490.3,592.2 492.0,592.6 493.8,593.0 495.5,593.3 497.2,593.4 499.8,593.6 502.7,593.5 505.7,593.4 508.7,593.1 511.7,592.7 514.7,592.3 517.6,591.9 520.3,591.4 522.4,591.1 524.4,590.7 526.4,590.3 528.4,589.9 530.3,589.4 532.3,588.9 534.2,588.4 536.1,587.8 537.7,587.3 539.2,586.7 540.8,586.2 542.3,585.6 543.8,584.9 545.4,584.2 546.8,583.6 548.2,582.9 549.3,582.4 550.3,581.8 551.3,581.3 552.2,580.7 553.1,580.2 554.0,579.5 554.8,578.9 555.7,578.2 556.5,577.3 557.3,576.4 558.1,575.4 558.9,574.4 559.6,573.2 560.3,572.1 561.0,571.0 561.5,570.0 562.0,569.1 562.5,568.3 562.9,567.4 563.4,566.6 563.8,565.7 564.1,565.0 564.4,564.3 564.7,563.7 564.9,563.3 565.0,563.0 565.1,562.6 565.3,562.3 565.4,562.0 565.5,561.7 565.6,561.3 565.8,560.9 566.2,559.9 566.6,558.5 567.2,556.7 567.9,554.7 568.5,552.8 569.1,550.9 569.6,549.2 570.1,547.7 570.5,546.5 571.0,545.3 571.4,544.2 571.8,543.0 572.2,541.9 572.6,540.7 573.1,539.6 573.6,538.3 574.2,536.7 574.9,535.1 575.6,533.4 576.3,531.8 577.0,530.2 577.5,528.8 578.0,527.7 579.1,525.2 590.3,525.2 591.3,523.0 591.5,522.7 591.6,522.4 591.8,522.1 592.0,521.7 592.2,521.3 592.4,520.9 592.7,520.5 592.9,520.0 593.2,519.5 593.5,519.0 593.8,518.6 594.1,518.1 594.5,517.5 594.8,517.0 595.2,516.4 595.7,515.6 596.2,514.8 596.7,513.9 597.3,513.0 597.8,512.0 598.3,511.1 598.9,510.1 599.4,509.2 599.9,508.1 600.5,507.1 601.0,506.0 601.5,505.0 602.0,503.9 602.5,502.8 603.0,501.7 603.4,500.5 604.0,498.7 604.6,496.7 605.1,494.5 605.6,492.3 606.1,490.1 606.5,487.9 606.9,485.8 607.4,483.8 607.7,482.0 608.1,480.4 608.4,478.9 608.7,477.4 609.0,475.8 609.4,474.2 609.7,472.6 610.1,470.7 610.7,467.3 611.4,463.6 612.1,459.9 612.8,456.1 613.6,452.1 614.3,448.1 615.0,444.1 615.7,440.2 616.5,435.4 617.3,430.6 618.0,425.7 618.8,420.7 619.6,415.6 620.4,410.5 621.1,405.3 621.9,400.2 622.7,394.1 623.6,388.0 624.4,381.9 625.2,375.7 626.0,369.4 626.8,363.0 627.6,356.5 628.4,350.3 629.2,342.5 630.1,334.2 631.0,325.5 631.9,316.9 632.7,308.6 633.5,301.0 634.4,293.8 635.2,288.3 635.4,287.2 635.6,286.4 635.7,285.8 635.8,285.2 635.9,284.7 636.0,284.2 636.1,283.8 636.6,281.4 638.4,283.5 638.8,284.1 639.3,284.7 639.9,285.4 640.3,286.1 640.7,286.7 641.0,287.2 641.2,287.6 641.3,287.8 641.4,287.9 641.5,288.0 641.5,288.1 641.6,288.3 641.6,288.4 641.7,288.5 641.7,288.7 642.0,290.0 642.4,293.5 642.9,298.5 643.2,302.8 643.4,307.3 643.7,311.8 643.9,316.2 644.1,320.1 644.3,323.8 644.5,327.5 644.7,331.2 644.9,335.0 645.0,338.7 645.2,342.5 645.4,346.2 645.5,350.0 645.6,353.8 645.7,357.5 645.8,361.3 645.9,365.0 646.0,368.8 646.1,372.5 646.2,376.3 646.4,380.0 646.6,383.7 646.9,387.5 647.1,391.3 647.4,395.0 647.7,398.8 648.0,402.5 648.2,406.3 648.5,410.0 648.7,413.7 648.9,417.4 649.1,421.1 649.3,424.7 649.5,428.4 649.7,432.1 649.9,435.9 650.1,439.7 650.3,444.7 650.5,449.9 650.7,455.2 650.9,460.5 651.2,465.8 651.4,471.0 651.7,476.0 652.0,480.7 652.2,483.2 652.4,485.6 652.6,487.9 652.8,490.2 653.0,492.4 653.3,494.7 653.5,497.0 653.7,499.5 654.1,503.2 654.5,507.0 654.8,510.9 655.2,514.8 655.6,518.7 656.0,522.6 656.4,526.5 656.9,530.1 657.4,533.3 658.0,536.6 658.5,540.0 659.1,543.3 659.8,546.5 660.4,549.7 661.0,552.8 661.6,555.6 662.0,557.3 662.3,558.8 662.7,560.3 663.0,561.8 663.4,563.3 663.8,564.8 664.3,566.2 664.7,567.7 665.1,568.9 665.6,570.2 666.1,571.4 666.6,572.6 667.1,573.7 667.7,574.8 668.4,575.9 669.0,576.9 669.7,577.8 670.3,578.6 671.0,579.4 671.8,580.2 672.5,580.9 673.3,581.6 674.2,582.3 675.0,582.9 676.0,583.6 676.9,584.2 677.9,584.8 678.9,585.3 680.0,585.8 681.0,586.3 682.1,586.7 683.2,587.1 684.4,587.5 685.7,587.9 687.0,588.2 688.3,588.4 689.6,588.6 691.0,588.8 692.3,589.0 693.7,589.1 695.1,589.2 696.5,589.3 697.8,589.3 699.1,589.3 700.5,589.2 701.8,589.2 703.3,589.2 704.9,589.1 708.7,589.0 713.2,589.0 717.6,588.8 722.2,588.7 727.0,588.6 731.9,588.5 736.8,588.3 741.4,588.2 747.3,588.0 753.0,587.9 758.9,587.7 764.9,587.5 771.0,587.3 777.1,587.1 783.3,586.9 789.4,586.7 796.1,586.5 802.7,586.4 809.3,586.2 815.9,586.1 822.7,585.9 829.7,585.8 836.9,585.6 844.1,585.4 854.3,585.1 865.0,584.8 876.1,584.5 887.5,584.1 898.8,583.8 909.8,583.4 920.3,583.1 930.4,582.8 937.0,582.6 943.5,582.4 949.7,582.2 955.7,582.1 961.7,581.9 967.6,581.7 973.5,581.6 979.7,581.4" fill="none" stroke="#008000" stroke-width="3.5" stroke-linejoin="round" stroke-linecap="butt"/>
<polyline points="76.0,599.0 84.3,598.7 92.6,598.5 100.9,598.3 109.3,598.0 117.6,597.8 125.8,597.5 134.0,597.2 142.1,596.9 149.5,596.6 156.9,596.2 164.2,595.8 171.5,595.4 178.7,595.0 185.9,594.6 193.0,594.3 200.2,593.9 206.5,593.6 212.8,593.3 219.2,593.1 225.4,592.8 231.6,592.5 237.8,592.2 243.9,591.9 250.1,591.5 255.7,591.1 261.3,590.6 266.9,590.1 272.4,589.6 277.9,589.1 283.5,588.5 289.1,588.0 294.7,587.5 301.6,587.0 308.7,586.5 315.9,586.0 323.2,585.4 330.4,584.9 337.4,584.4 344.0,583.7 350.6,583.0 354.4,582.5 358.3,582.0 362.2,581.4 365.9,580.8 369.5,580.2 373.0,579.6 376.6,578.9 380.2,578.3 383.2,577.7 386.1,577.1 389.0,576.5 391.9,575.9 394.8,575.3 397.6,574.7 400.5,574.0 403.3,573.4 406.3,572.8 409.4,572.1 412.5,571.3 415.6,570.6 418.7,569.9 421.7,569.3 424.8,568.6 427.5,568.1 429.2,567.8 430.8,567.6 432.3,567.3 433.7,567.1 435.2,566.9 436.7,566.6 438.2,566.4 439.8,566.1 441.6,565.8 443.5,565.4 445.3,565.1 447.1,564.7 448.9,564.4 450.4,564.1 451.7,563.8 454.4,563.3 456.6,564.0 456.8,564.0 457.1,564.2 457.4,564.3 457.7,564.5 458.0,564.6 458.4,564.9 458.8,565.2 459.4,565.7 460.1,566.4 460.8,567.2 461.6,568.3 462.4,569.4 463.2,570.6 463.8,571.7 464.5,572.7 465.1,573.7 465.8,574.6 466.5,575.6 467.2,576.5 467.9,577.5 468.7,578.3 469.4,579.1 470.2,579.8 470.9,580.4 471.6,581.0 472.3,581.5 473.0,581.9 473.8,582.4 474.6,582.8 475.4,583.2 476.3,583.5 477.4,584.0 478.5,584.4 479.8,584.7 481.1,585.0 482.4,585.3 483.7,585.5 484.9,585.7 486.3,585.9 487.8,586.0 489.4,586.0 491.1,586.0 492.7,586.0 494.3,585.9 496.0,585.7 497.6,585.6 499.4,585.4 501.8,585.2 504.4,584.9 507.1,584.5 509.8,584.1 512.5,583.7 515.1,583.2 517.8,582.7 520.2,582.2 522.3,581.7 524.2,581.3 526.2,580.8 528.1,580.2 530.0,579.7 532.0,579.1 533.9,578.5 535.8,577.9 537.9,577.3 540.0,576.6 542.1,576.0 544.2,575.3 546.4,574.6 548.5,573.9 550.6,573.2 552.4,572.5 553.7,572.0 554.8,571.6 555.9,571.1 557.0,570.7 558.1,570.2 559.2,569.7 560.3,569.2 561.4,568.7 562.5,568.1 563.5,567.6 564.6,567.0 565.6,566.4 566.6,565.7 567.7,565.1 568.6,564.5 569.6,563.9 570.4,563.4 571.1,562.9 571.8,562.4 572.4,562.0 573.0,561.5 573.7,561.1 574.3,560.5 575.1,559.9 576.3,558.6 577.8,556.9 579.3,555.0 580.7,553.1 582.1,551.1 583.3,549.1 584.5,547.1 585.6,545.2 586.6,543.4 587.5,541.5 588.4,539.6 589.2,537.6 590.1,535.6 590.9,533.6 591.7,531.6 592.4,529.7 593.0,528.2 593.5,526.8 594.0,525.4 594.5,524.1 594.9,522.7 595.4,521.4 595.9,520.0 596.4,518.4 597.0,516.3 597.7,514.0 598.4,511.6 599.1,509.3 599.8,506.9 600.4,504.6 601.0,502.2 601.6,500.0 602.1,497.7 602.6,495.4 603.0,493.1 603.4,490.7 603.9,488.4 604.3,486.0 604.7,483.7 605.1,481.5 605.4,480.0 605.7,478.7 605.9,477.5 606.1,476.3 606.4,475.1 606.6,473.8 606.8,472.5 607.1,470.9 607.7,467.6 608.3,463.8 608.9,460.1 609.5,456.2 610.1,452.2 610.7,448.1 611.3,444.1 611.9,440.2 612.6,435.4 613.3,430.5 614.1,425.7 614.9,420.7 615.6,415.6 616.4,410.5 617.1,405.3 617.9,400.2 618.7,394.1 619.5,388.0 620.4,381.9 621.2,375.7 622.0,369.4 622.8,363.0 623.6,356.5 624.4,350.3 625.3,342.5 626.2,334.0 627.2,325.2 628.1,316.4 629.0,308.1 629.8,300.5 630.5,292.9 631.0,288.2 631.0,287.6 631.0,287.2 631.1,286.8 631.1,286.6 631.1,286.3 631.1,286.1 631.1,285.9 631.3,283.8 636.5,264.9 638.3,266.6 638.7,267.0 639.2,267.5 639.7,268.1 640.3,268.7 640.8,269.4 641.4,270.1 641.9,271.0 642.5,272.0 643.0,273.2 643.5,274.4 643.9,275.8 644.2,277.2 644.5,278.6 644.8,280.0 644.9,281.3 645.1,282.3 645.2,283.2 645.3,284.1 645.3,284.9 645.4,285.8 645.4,286.7 645.5,287.6 645.6,288.8 645.8,291.8 646.2,295.9 646.6,299.8 647.0,303.8 647.5,308.0 647.9,312.1 648.3,316.2 648.6,320.1 648.9,323.8 649.1,327.5 649.3,331.2 649.5,335.0 649.7,338.7 649.8,342.5 650.0,346.2 650.2,350.0 650.4,353.8 650.6,357.5 650.8,361.3 651.0,365.0 651.2,368.8 651.4,372.5 651.7,376.3 651.9,380.0 652.2,383.8 652.5,387.5 652.7,391.3 653.1,395.0 653.4,398.8 653.7,402.5 654.0,406.3 654.3,410.0 654.6,413.7 654.9,417.4 655.2,421.1 655.6,424.7 655.9,428.4 656.2,432.1 656.5,435.9 656.8,439.7 657.1,444.7 657.5,449.9 657.8,455.2 658.1,460.5 658.5,465.8 658.8,471.0 659.2,476.0 659.6,480.7 659.8,483.2 660.1,485.6 660.4,487.9 660.6,490.2 660.9,492.4 661.2,494.7 661.4,497.0 661.7,499.5 662.1,503.2 662.5,507.0 662.9,510.9 663.3,514.8 663.7,518.7 664.1,522.6 664.6,526.4 665.0,530.1 665.4,533.4 665.8,536.7 666.2,540.1 666.7,543.4 667.1,546.7 667.7,549.9 668.4,553.1 669.1,555.8 669.5,557.2 669.9,558.4 670.3,559.5 670.8,560.6 671.2,561.7 671.7,562.9 672.3,564.0 672.9,565.2 673.6,566.6 674.3,568.0 675.1,569.4 675.9,570.8 676.7,572.1 677.6,573.4 678.5,574.7 679.4,575.9 680.2,576.9 681.1,577.9 682.0,578.8 682.9,579.8 683.8,580.7 684.8,581.6 685.8,582.4 686.8,583.1 687.6,583.8 688.5,584.4 689.5,585.0 690.4,585.5 691.4,586.0 692.3,586.5 693.2,586.9 694.1,587.2 694.7,587.5 695.3,587.7 695.9,587.9 696.4,588.1 697.0,588.2 697.6,588.3 698.2,588.5 699.0,588.6 700.7,588.9 702.8,589.2 705.3,589.4 707.7,589.6 710.1,589.8 712.5,589.9 714.9,590.0 717.3,590.1 721.3,590.2 725.4,590.2 729.5,590.3 733.8,590.2 738.4,590.2 743.2,590.2 748.2,590.1 752.8,590.1 763.0,590.1 773.4,590.0 784.7,589.9 796.4,589.8 808.5,589.7 820.6,589.6 832.5,589.5 844.0,589.5 855.7,589.5 868.4,589.5 881.6,589.5 894.5,589.5 906.5,589.6 917.0,589.7 927.6,590.0 931.5,590.3 931.7,590.4 931.8,590.4 932.0,590.4 932.1,590.4 932.2,590.4 932.3,590.4 932.4,590.4 932.6,590.4 933.2,590.5 934.2,590.5 935.7,590.4 937.8,590.4 939.9,590.3 941.9,590.1 943.6,590.0 945.2,589.9 946.6,589.8 947.9,589.7 949.3,589.6 950.7,589.5 952.2,589.4 953.6,589.3 955.0,589.3 956.3,589.4 957.4,589.4 958.4,589.5 959.4,589.6 960.4,589.7 961.3,589.8 962.3,589.9 963.3,590.0 964.4,590.0 965.6,590.1 966.9,590.1 968.1,590.0 969.3,590.0 970.4,589.9 971.3,589.9 972.1,589.8 974.7,589.6" fill="none" stroke="#000080" stroke-width="3.5" stroke-linejoin="round" stroke-linecap="butt"/>
<text transform="translate(59.6,691.8) scale(0.96,1)" text-anchor="end" class="tl">0</text>
<text transform="translate(59.6,580.0) scale(0.96,1)" text-anchor="end" class="tl">1</text>
<text transform="translate(59.6,468.2) scale(0.96,1)" text-anchor="end" class="tl">2</text>
<text transform="translate(59.6,356.3) scale(0.96,1)" text-anchor="end" class="tl">3</text>
<text transform="translate(59.6,244.5) scale(0.96,1)" text-anchor="end" class="tl">4</text>
<text transform="translate(59.6,132.7) scale(0.96,1)" text-anchor="end" class="tl">5</text>
<text transform="translate(59.6,20.9) scale(0.96,1)" text-anchor="end" class="tl">6</text>
<text transform="translate(73.9,720) scale(0.95,1)" text-anchor="middle" class="tl">200</text>
<text transform="translate(203.9,720) scale(0.95,1)" text-anchor="middle" class="tl">225</text>
<text transform="translate(333.8,720) scale(0.95,1)" text-anchor="middle" class="tl">250</text>
<text transform="translate(463.8,720) scale(0.95,1)" text-anchor="middle" class="tl">275</text>
<text transform="translate(593.7,720) scale(0.95,1)" text-anchor="middle" class="tl">300</text>
<text transform="translate(723.7,720) scale(0.95,1)" text-anchor="middle" class="tl">325</text>
<text transform="translate(853.6,720) scale(0.95,1)" text-anchor="middle" class="tl">350</text>
<text transform="translate(983.6,720) scale(0.95,1)" text-anchor="middle" class="tl">375</text>
<text x="545.3" y="761.2" text-anchor="middle" class="xt">Temperature/°C</text>
<text transform="translate(23.4,418.6) rotate(-90)" x="0" y="0" class="yt">DSC/(mW/mg)</text>
<line x1="213.1" y1="110.9" x2="293.7" y2="110.9" stroke="#000000" stroke-width="3.5"/>
<text x="302.6" y="122.9" class="lg">sample 1</text>
<line x1="213.1" y1="155.0" x2="293.7" y2="155.0" stroke="#ff0000" stroke-width="3.5"/>
<text x="302.6" y="167.0" class="lg">sample 2</text>
<line x1="213.1" y1="199.1" x2="293.7" y2="199.1" stroke="#0000ff" stroke-width="3.5"/>
<text x="302.6" y="211.1" class="lg">sample 3</text>
<line x1="213.1" y1="243.2" x2="293.7" y2="243.2" stroke="#ff00ff" stroke-width="3.5"/>
<text x="302.6" y="255.2" class="lg">sample 4</text>
<line x1="213.1" y1="287.3" x2="293.7" y2="287.3" stroke="#008000" stroke-width="3.5"/>
<text x="302.6" y="299.3" class="lg">sample 5</text>
<line x1="213.1" y1="331.4" x2="293.7" y2="331.4" stroke="#000080" stroke-width="3.5"/>
<text x="302.6" y="343.4" class="lg">sample 6</text>
</svg>
</body></html>
